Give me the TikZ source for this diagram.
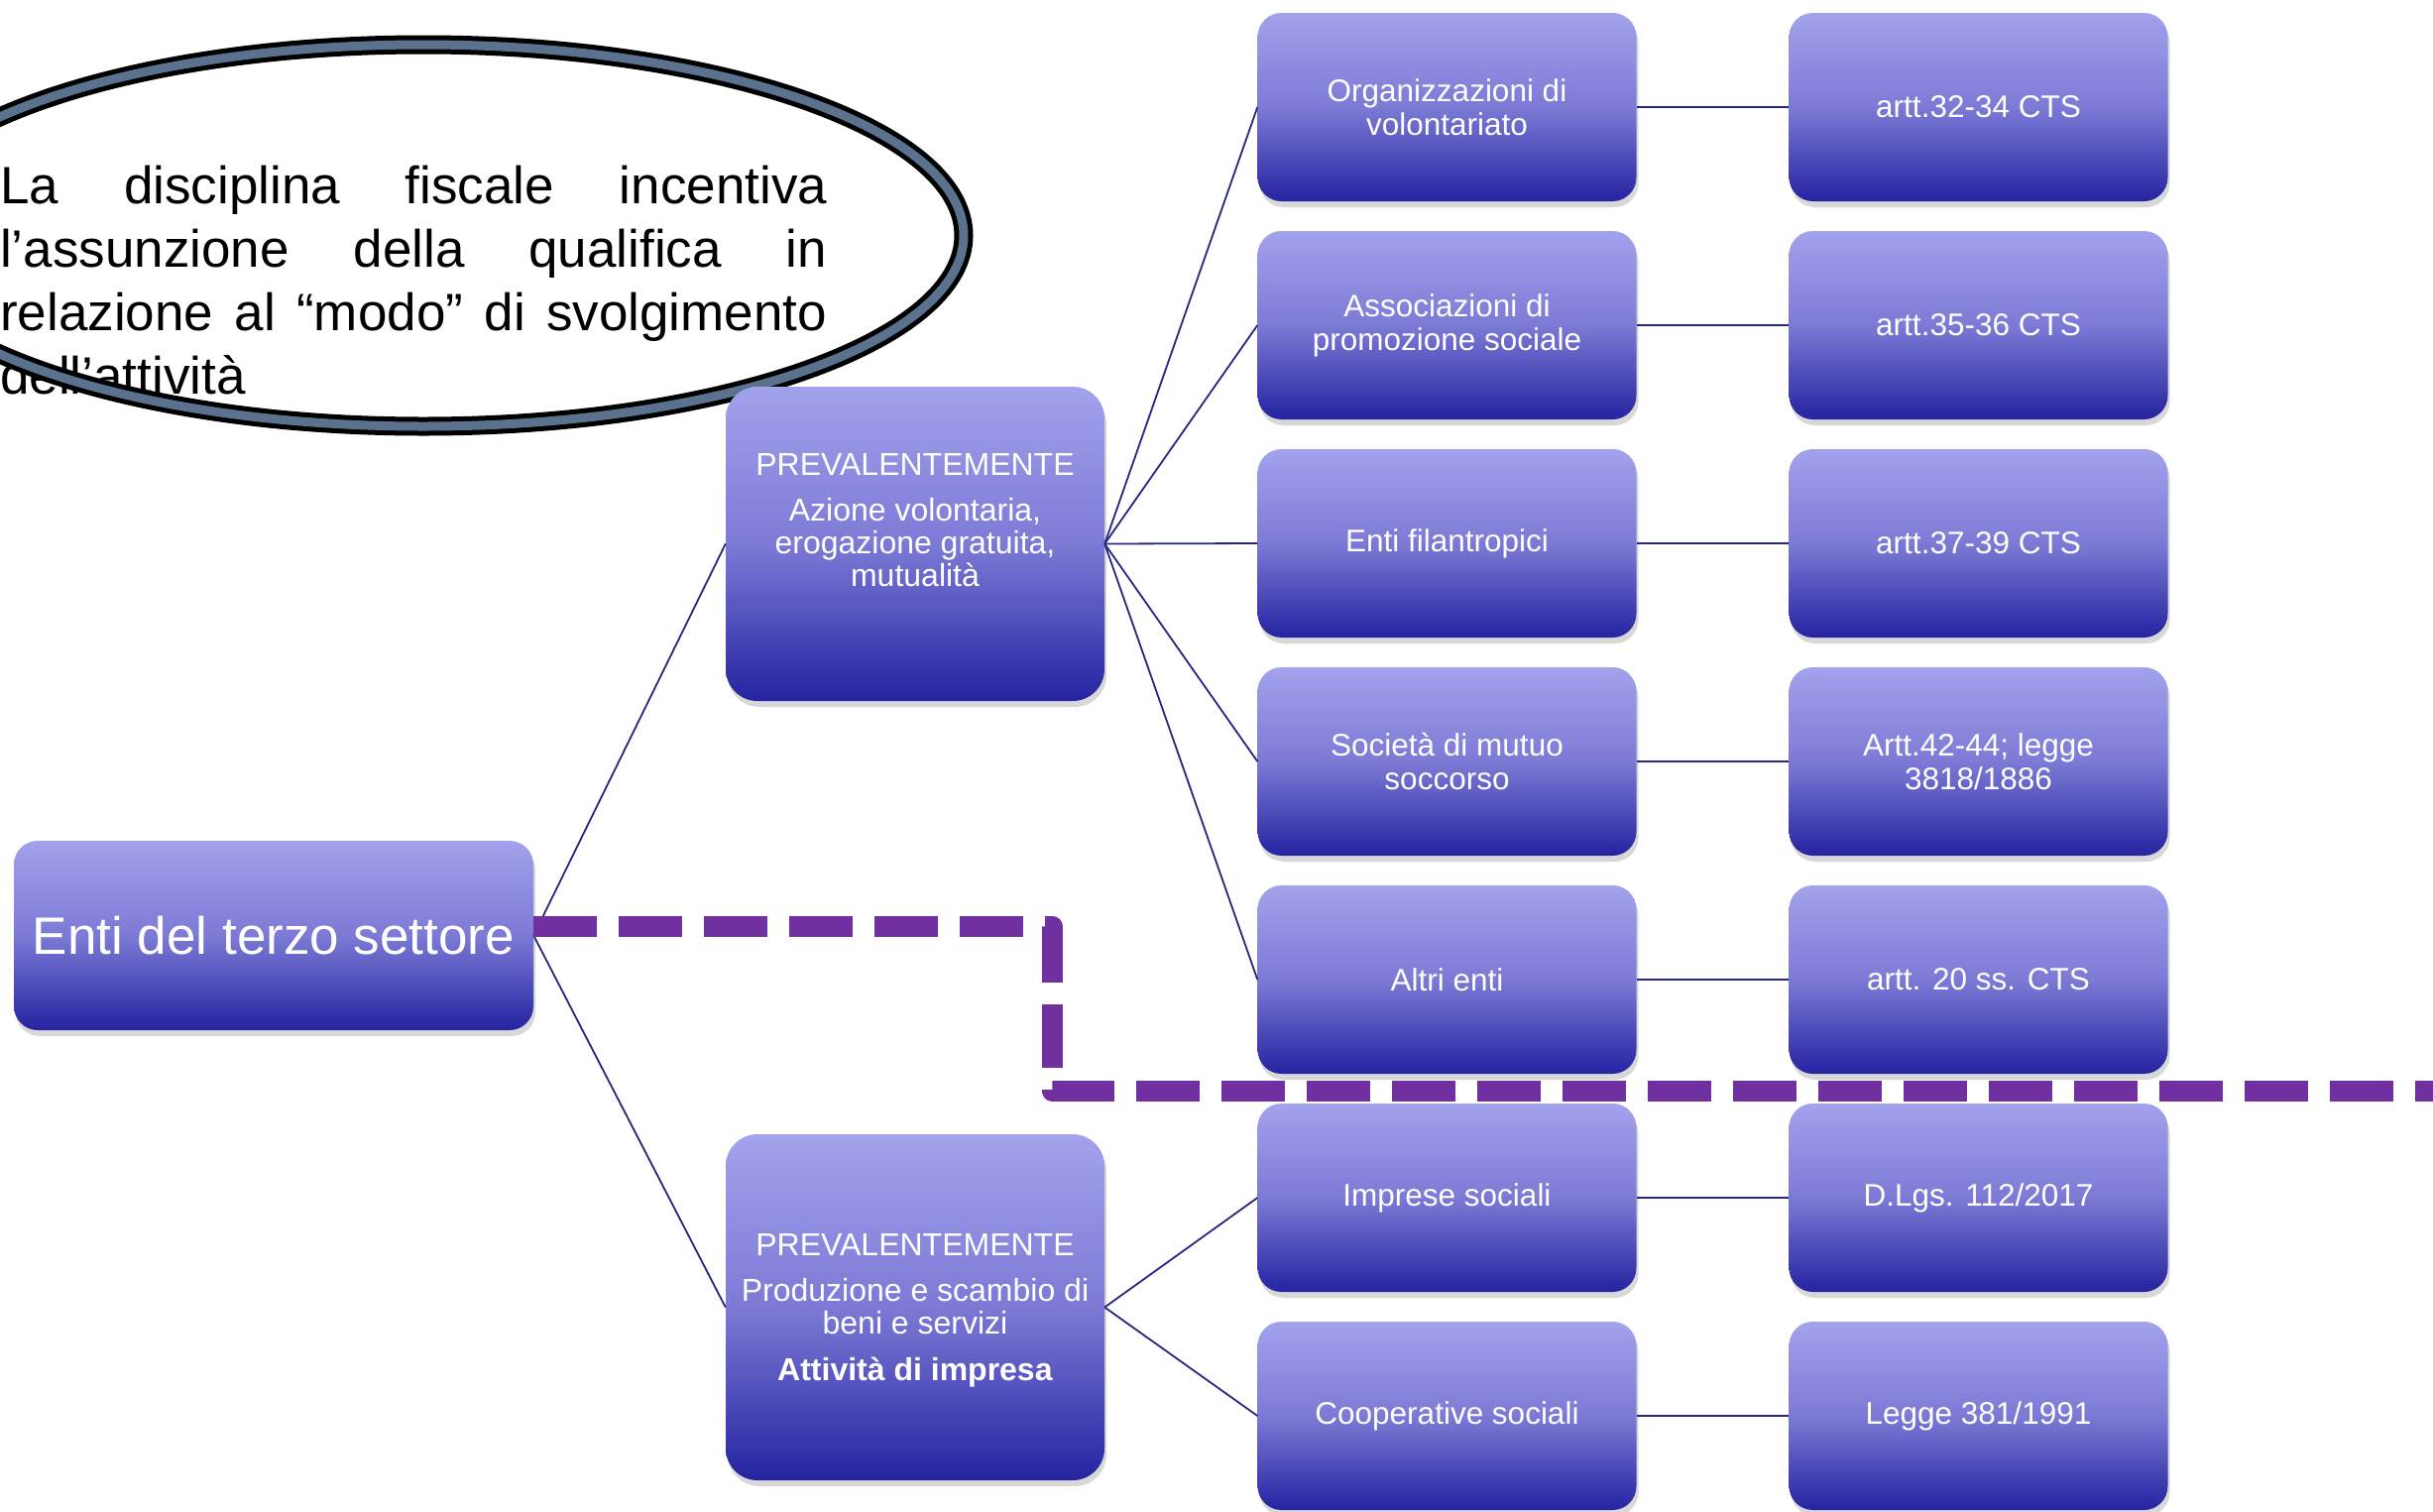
\documentclass[tikz,border=0pt]{standalone}
\usepackage{fontspec}
\setmainfont{Liberation Sans}
\usetikzlibrary{shadows}
\definecolor{boxtop}{RGB}{163,162,236}
\definecolor{boxmid}{RGB}{124,122,213}
\definecolor{boxbot}{RGB}{37,35,160}
\definecolor{conncol}{RGB}{40,40,128}
\definecolor{sepcol}{RGB}{112,48,160}
\definecolor{ellcol}{RGB}{90,114,142}
\newcommand\fsbox{\fontsize{31.5}{34}\selectfont}
\newcommand\fsprev{\fontsize{32}{33}\selectfont}
\newcommand\fsroot{\fontsize{53}{60}\selectfont}
\newcommand\fsell{\fontsize{53}{64}\selectfont}
\begin{document}
\begin{tikzpicture}[x=1pt,y=-1pt,
  box/.style={rounded corners=24pt, top color=boxtop, bottom color=boxbot, middle color=boxmid,
    minimum width=382pt, minimum height=190pt, inner sep=0pt, text=white, align=center, font=\fsbox,
    drop shadow={opacity=0.3, shadow xshift=2pt, shadow yshift=-6pt}},
  bigbox/.style={box, rounded corners=32pt},
  conn/.style={draw=conncol, line width=1.8pt},
  sepline/.style={draw=sepcol, line width=21pt, dash pattern=on 64pt off 22pt, line join=round},
  btext/.style={text=white, inner sep=0pt, anchor=base},
  elltext/.style={text=black, inner sep=0pt, anchor=base west},
  ellline/.style={draw=black, line width=5pt, double=ellcol, double distance=9pt}
]
\useasboundingbox (0,0) rectangle (2454,1524);
\fill[white] (0,0) rectangle (2454,1524);
\clip (0,0) rectangle (2454,1524);

% ellipse annotation
\node[elltext] (etext) at (0,205) {\parbox[t]{834pt}{\fsell
  \hbox to 834pt{La\hfill disciplina\hfill fiscale\hfill incentiva}
  \hbox to 834pt{l’assunzione\hfill della\hfill qualifica\hfill in}
  \hbox to 834pt{relazione\hfill al\hfill “modo”\hfill di\hfill svolgimento}
  \hbox to 834pt{dell’attività\hfil}}};
\draw[ellline] (427,237.5) ellipse [x radius=545pt, y radius=192.5pt];

% boxes
\node[box, minimum width=524pt, minimum height=191pt, font=\fsroot] (root) at (276,943.5) {Enti del terzo settore};
\node[bigbox, minimum height=317pt] (p1) at (923,548.5) {};
\node[bigbox, minimum height=349pt] (p2) at (923,1318.5) {};

\node[box] (c1) at (1459.5,108) {Organizzazioni di\\volontariato};
\node[box] (c2) at (1459.5,328) {Associazioni di\\promozione sociale};
\node[box] (c3) at (1459.5,548) {Enti filantropici};
\node[box] (c4) at (1459.5,768) {Società di mutuo\\soccorso};
\node[box] (c5) at (1459.5,988) {Altri enti};
\node[box] (c6) at (1459.5,1208) {Imprese sociali};
\node[box] (c7) at (1459.5,1428) {Cooperative sociali};

\node[box] (a1) at (1995.5,108) {artt.32-34 CTS};
\node[box] (a2) at (1995.5,328) {artt.35-36 CTS};
\node[box] (a3) at (1995.5,548) {artt.37-39 CTS};
\node[box] (a4) at (1995.5,768) {Artt.42-44; legge\\3818/1886};
\node[box] (a5) at (1995.5,988) {artt. 20 ss. CTS};
\node[box] (a6) at (1995.5,1208) {D.Lgs. 112/2017};
\node[box] (a7) at (1995.5,1428) {Legge 381/1991};

% texts of the two middle boxes
\node[btext] (p1t) at (923,479) {\parbox[t]{380pt}{\centering\fsprev
  PREVALENTEMENTE\\[13pt]
  Azione volontaria,\\
  erogazione gratuita,\\
  mutualità}};
\node[btext] (p2t) at (923,1266) {\parbox[t]{380pt}{\centering\fsprev
  PREVALENTEMENTE\\[13pt]
  Produzione e scambio di\\
  beni e servizi\\[14pt]
  \textbf{Attività di impresa}}};

% connectors
\draw[conn] (root.east) -- (p1.west);
\draw[conn] (root.east) -- (p2.west);
\foreach \i in {1,...,5} {\draw[conn] (p1.east) -- (c\i.west);}
\draw[conn] (p2.east) -- (c6.west);
\draw[conn] (p2.east) -- (c7.west);
\foreach \i in {1,...,7} {\draw[conn] (c\i.east) -- (a\i.west);}

% dashed separator
\coordinate (d0) at (538,934);
\coordinate (d1) at (1061,934);
\coordinate (d2) at (1061,1100);
\coordinate (d3) at (2470,1100);
\draw[sepline] (d0) -- (d1) -- (d2) -- (d3);
\end{tikzpicture}
\end{document}
